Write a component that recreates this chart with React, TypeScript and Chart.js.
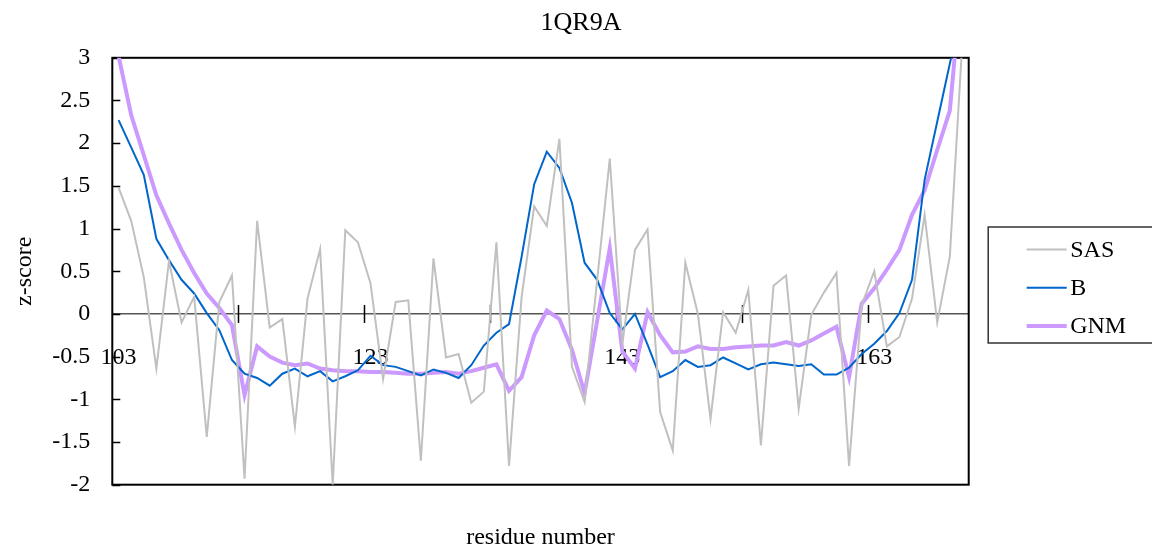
import React, { useEffect, useRef } from 'react';
import { Chart, registerables } from 'chart.js';

Chart.register(...registerables);

const residues = [
  '103', '104', '105', '106', '107', '108', '109', '110', '111', '112',
  '113', '114', '115', '116', '117', '118', '119', '120', '121', '122',
  '123', '124', '125', '126', '127', '128', '129', '130', '131', '132',
  '133', '134', '135', '136', '137', '138', '139', '140', '141', '142',
  '143', '144', '145', '146', '147', '148', '149', '150', '151', '152',
  '153', '154', '155', '156', '157', '158', '159', '160', '161', '162',
  '163', '164', '165', '166', '167', '168', '169', '170',
];

const sasValues = [
  1.48, 1.09, 0.43, -0.64, 0.62, -0.10, 0.20, -1.44, 0.14, 0.45,
  -1.93, 1.09, -0.16, -0.06, -1.32, 0.18, 0.76, -2.0, 0.98, 0.84,
  0.36, -0.76, 0.14, 0.16, -1.72, 0.65, -0.51, -0.47, -1.04, -0.91,
  0.84, -1.78, 0.2, 1.26, 1.03, 2.05, -0.62, -1.03, 0.4, 1.82,
  -0.35, 0.75, 0.99, -1.15, -1.6, 0.6, 0.0, -1.23, 0.02, -0.22,
  0.28, -1.54, 0.33, 0.45, -1.11, -0.01, 0.25, 0.48, -1.78, 0.1,
  0.5, -0.38, -0.27, 0.18, 1.16, -0.1, 0.67, 3.2,
];

const bValues = [
  2.27, 1.95, 1.63, 0.88, 0.63, 0.40, 0.24, 0.01, -0.19, -0.54,
  -0.70, -0.75, -0.84, -0.70, -0.64, -0.73, -0.67, -0.79, -0.73, -0.66,
  -0.49, -0.60, -0.62, -0.67, -0.72, -0.65, -0.69, -0.75, -0.60, -0.37,
  -0.22, -0.12, 0.67, 1.52, 1.90, 1.71, 1.30, 0.60, 0.40, 0.01,
  -0.18, 0.0, -0.36, -0.74, -0.67, -0.54, -0.62, -0.60, -0.51, -0.58,
  -0.65, -0.59, -0.57, -0.59, -0.61, -0.59, -0.71, -0.71, -0.63, -0.47,
  -0.35, -0.20, 0.01, 0.40, 1.57, 2.25, 2.93, 3.6,
];

const gnmValues = [
  3.02, 2.33, 1.86, 1.39, 1.06, 0.75, 0.48, 0.24, 0.07, -0.13,
  -0.95, -0.38, -0.50, -0.57, -0.60, -0.58, -0.64, -0.66, -0.67, -0.67,
  -0.68, -0.68, -0.69, -0.70, -0.70, -0.69, -0.68, -0.70, -0.67, -0.63,
  -0.59, -0.90, -0.74, -0.25, 0.04, -0.06, -0.42, -0.93, -0.08, 0.77,
  -0.44, -0.64, 0.02, -0.25, -0.45, -0.44, -0.38, -0.41, -0.41, -0.39,
  -0.38, -0.37, -0.37, -0.33, -0.37, -0.31, -0.23, -0.15, -0.74, 0.12,
  0.30, 0.52, 0.75, 1.16, 1.45, 1.92, 2.38, 4.0,
];

const seriesNames = ['SAS', 'B', 'GNM'];
const seriesColors = ['#c0c0c0', '#0066cc', '#cc99ff'];
const seriesWidths = [2, 2, 4];

const FONT = '"Liberation Serif", "Times New Roman", serif';

export default function App() {
  const canvasRef = useRef<HTMLCanvasElement | null>(null);

  useEffect(() => {
    const canvas = canvasRef.current;
    if (!canvas) return;

    const framePlugin = {
      id: 'excelFrame',
      beforeDatasetsDraw(chart: any) {
        const { ctx, chartArea } = chart;
        const xs = chart.scales.x;
        const ys = chart.scales.y;
        ctx.save();
        // y-axis inside tick marks
        ctx.strokeStyle = '#000';
        ctx.lineWidth = 1.5;
        ys.ticks.forEach((t: any) => {
          const py = Math.round(ys.getPixelForValue(t.value)) + 0.5;
          ctx.beginPath();
          ctx.moveTo(chartArea.left, py);
          ctx.lineTo(chartArea.left + 8, py);
          ctx.stroke();
        });
        // x-axis crossing tick marks every 10 categories
        const y0 = ys.getPixelForValue(0);
        for (let i = 10; i < residues.length; i += 10) {
          const px = Math.round((xs.getPixelForValue(i - 1) + xs.getPixelForValue(i)) / 2) + 0.5;
          ctx.beginPath();
          ctx.moveTo(px, y0 - 9);
          ctx.lineTo(px, y0 + 9);
          ctx.stroke();
        }
        // plot area border
        ctx.lineWidth = 2;
        ctx.strokeStyle = '#000';
        ctx.strokeRect(chartArea.left, chartArea.top, chartArea.right - chartArea.left, chartArea.bottom - chartArea.top);
        ctx.restore();
      },
      afterDraw(chart: any) {
        const { ctx, chartArea } = chart;
        const boxLeft = chartArea.right + 19.5;
        const boxTop = 227;
        ctx.save();
        ctx.strokeStyle = '#333';
        ctx.lineWidth = 1.5;
        ctx.strokeRect(boxLeft, boxTop, 220, 116);
        ctx.font = `24px ${FONT}`;
        ctx.textBaseline = 'middle';
        ctx.textAlign = 'left';
        chart.data.datasets.forEach((ds: any, i: number) => {
          const ly = 249.5 + i * 38.3;
          ctx.strokeStyle = ds.borderColor;
          ctx.lineWidth = ds.borderWidth;
          ctx.beginPath();
          ctx.moveTo(boxLeft + 38.5, ly);
          ctx.lineTo(boxLeft + 78.5, ly);
          ctx.stroke();
          ctx.fillStyle = '#000';
          ctx.fillText(ds.label, boxLeft + 82, ly + 1);
        });
        ctx.restore();
      },
    };

    const valueSets = [sasValues, bValues, gnmValues];

    const chart = new Chart(canvas, {
      type: 'line',
      data: {
        labels: residues,
        datasets: valueSets.map((vals, i) => ({
          label: seriesNames[i],
          data: vals,
          borderColor: seriesColors[i],
          backgroundColor: seriesColors[i],
          borderWidth: seriesWidths[i],
          pointRadius: 0,
          pointHoverRadius: 0,
          tension: 0,
          fill: false,
        })),
      },
      options: {
        responsive: false,
        animation: false,
        devicePixelRatio: 1,
        layout: { padding: { left: 10, right: 0, top: 0, bottom: 0 } },
        font: { family: FONT },
        plugins: {
          legend: { display: false },
          tooltip: { enabled: false },
          title: {
            display: true,
            text: '1QR9A',
            color: '#000',
            font: { family: FONT, size: 26, weight: 'normal', lineHeight: 1 },
            padding: { top: 10, bottom: 21.8 },
          },
        },
        scales: {
          x: {
            type: 'category',
            axis: 'x',
            position: { y: 0 },
            offset: true,
            grid: { display: false, drawTicks: false, offset: true },
            border: { display: true, color: '#555', width: 1.5 },
            ticks: {
              autoSkip: false,
              maxRotation: 0,
              minRotation: 0,
              padding: 29,
              color: '#000',
              font: { family: FONT, size: 24 },
              callback: (_v: any, i: number) => (i % 20 === 0 ? residues[i] : ''),
            },
          },
          x2: {
            type: 'category',
            axis: 'x',
            position: 'bottom',
            offset: true,
            grid: { display: false, drawTicks: false },
            border: { display: false },
            ticks: { display: false },
            title: {
              display: true,
              text: 'residue number',
              color: '#000',
              font: { family: FONT, size: 24, lineHeight: 1 },
              padding: { top: 0, bottom: 1 },
            },
            afterFit: (s: any) => { s.height = 66.3; },
          },
          y: {
            type: 'linear',
            position: 'left',
            min: -2,
            max: 3,
            grid: { display: false, drawTicks: false },
            border: { display: false },
            ticks: {
              stepSize: 0.5,
              padding: 22,
              color: '#000',
              font: { family: FONT, size: 24 },
              callback: (v: any) => String(v),
            },
            title: {
              display: true,
              text: 'z-score',
              color: '#000',
              font: { family: FONT, size: 24, lineHeight: 1 },
              padding: { top: 3, bottom: 0 },
            },
            afterFit: (s: any) => { s.width = 102.3; },
          },
          y2: {
            type: 'linear',
            axis: 'y',
            position: 'right',
            min: -2,
            max: 3,
            grid: { display: false, drawTicks: false },
            border: { display: false },
            ticks: { display: false },
            afterFit: (s: any) => { s.width = 183.3; },
          },
        },
      },
      plugins: [framePlugin],
    } as any);

    return () => chart.destroy();
  }, []);

  return (
    <div style={{ position: 'absolute', left: 0, top: 0, width: 1152, height: 551, background: '#fff' }}>
      <canvas ref={canvasRef} width={1152} height={551} style={{ display: 'block' }} />
    </div>
  );
}
